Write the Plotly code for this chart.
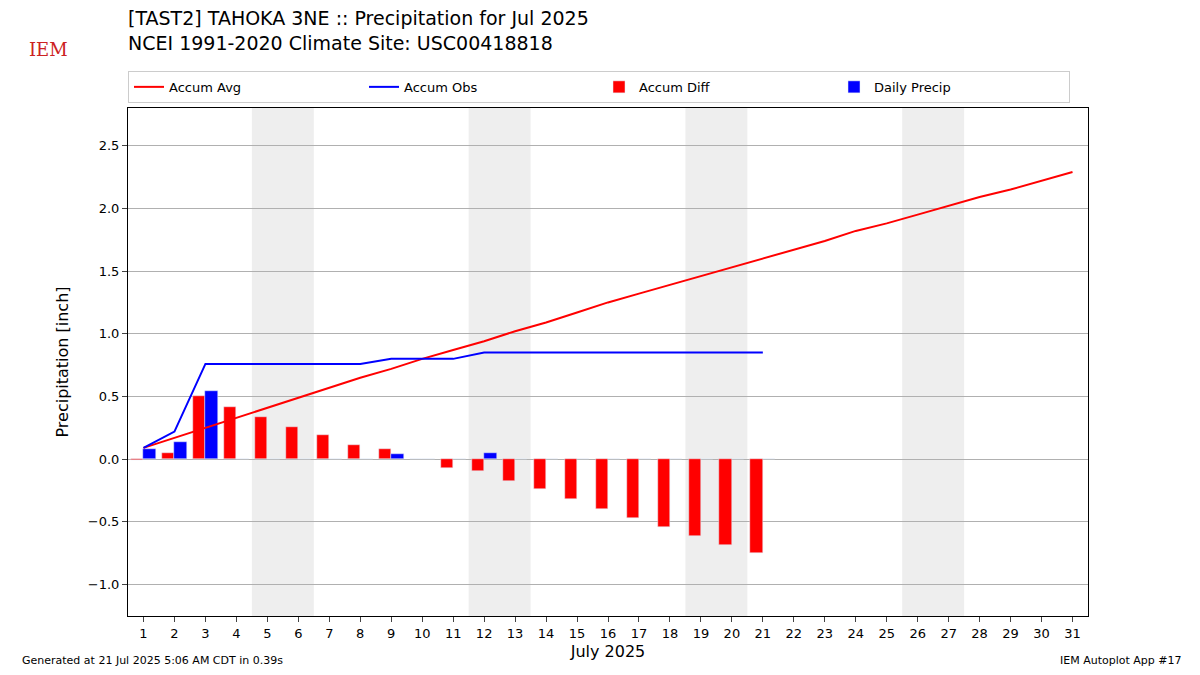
import plotly.graph_objects as go

days = list(range(1, 32))
accum_avg = [0.09, 0.17, 0.25, 0.33, 0.41, 0.49, 0.57, 0.65, 0.72, 0.80, 0.87, 0.94, 1.02, 1.09, 1.17, 1.25,
             1.32, 1.39, 1.46, 1.53, 1.60, 1.67, 1.74, 1.82, 1.88, 1.95, 2.02, 2.09, 2.15, 2.22, 2.29]
obs_days = list(range(1, 22))
accum_obs = [0.09, 0.22, 0.76, 0.76, 0.76, 0.76, 0.76, 0.76, 0.80, 0.80, 0.80, 0.85, 0.85, 0.85, 0.85, 0.85,
             0.85, 0.85, 0.85, 0.85, 0.85]
accum_diff = [-0.01, 0.05, 0.50, 0.42, 0.34, 0.26, 0.19, 0.11, 0.08, 0.0, -0.07, -0.09, -0.17, -0.24, -0.32,
              -0.40, -0.47, -0.54, -0.61, -0.68, -0.75]
daily = [0.08, 0.14, 0.54, 0, 0, 0, 0, 0, 0.04, 0, 0, 0.05, 0, 0, 0, 0, 0, 0, 0, 0, 0]
weekends = [(4.5, 6.5), (11.5, 13.5), (18.5, 20.5), (25.5, 27.5)]

fig = go.Figure()
fig.add_trace(go.Scatter(x=days, y=accum_avg, mode='lines', name='Accum Avg', line=dict(color='red', width=2)))
fig.add_trace(go.Scatter(x=obs_days, y=accum_obs, mode='lines', name='Accum Obs', line=dict(color='blue', width=2)))
fig.add_trace(go.Bar(x=obs_days, y=accum_diff, name='Accum Diff', marker_color='red', width=0.4, offset=-0.4))
fig.add_trace(go.Bar(x=obs_days, y=daily, name='Daily Precip', marker_color='blue', width=0.4, offset=0))

for a, b in weekends:
    fig.add_vrect(x0=a, x1=b, fillcolor='#eeeeee', line_width=0, layer='below')

fig.update_layout(
    width=1200, height=675, plot_bgcolor='white', paper_bgcolor='white',
    font=dict(family='DejaVu Sans', size=13, color='black'),
    margin=dict(l=120, r=120, t=100, b=67),
    barmode='overlay', bargap=0,
    title=dict(text='[TAST2] TAHOKA 3NE :: Precipitation for Jul 2025<br>NCEI 1991-2020 Climate Site: USC00418818',
               x=0.1, xanchor='left', y=0.975, yanchor='top', font=dict(size=19)),
    legend=dict(orientation='h', x=0, xanchor='left', y=1.01, yanchor='bottom',
                bordercolor='#cccccc', borderwidth=1, entrywidth=190, font=dict(size=13)),
)
fig.update_xaxes(range=[0.5, 31.5], tickmode='array', tickvals=days, ticks='outside', showgrid=False,
                 showline=True, linecolor='black', mirror=True, title_text='July 2025', title_font_size=16,
                 title_standoff=6)
fig.update_yaxes(range=[-1.25, 2.8], dtick=0.5, tickformat='.1f', ticks='outside', showgrid=True,
                 gridcolor='#b0b0b0', zeroline=False, showline=True, linecolor='black', mirror=True,
                 title_text='Precipitation [inch]', title_font_size=16)

fig.add_annotation(text='Generated at 21 Jul 2025 5:06 AM CDT in 0.39s', x=-0.113, y=-0.105, xref='paper',
                   yref='paper', xanchor='left', yanchor='bottom', showarrow=False, font=dict(size=11))
fig.add_annotation(text='IEM Autoplot App #17', x=1.10, y=-0.105, xref='paper', yref='paper',
                   xanchor='right', yanchor='bottom', showarrow=False, font=dict(size=11))
fig.add_annotation(text='IEM', x=-0.105, y=1.14, xref='paper', yref='paper', xanchor='left', showarrow=False,
                   font=dict(family='DejaVu Serif', size=18, color='#cc2222'))

fig.write_html("out.html")
